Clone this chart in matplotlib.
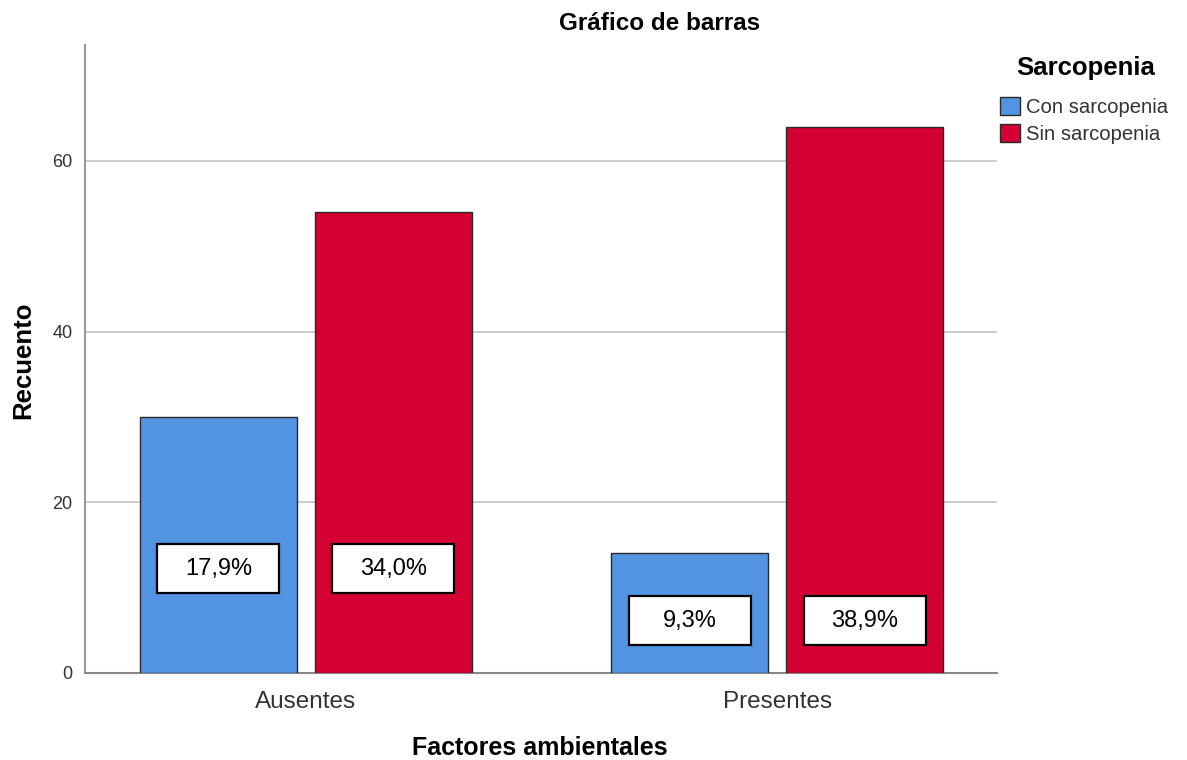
import numpy as np
import matplotlib as mpl
import matplotlib.pyplot as plt
from matplotlib.patches import Rectangle

mpl.rcParams['font.family'] = ['Liberation Sans', 'DejaVu Sans']

categories = ['Ausentes', 'Presentes']
series_names = ['Con sarcopenia', 'Sin sarcopenia']
con_counts = [30, 14]
sin_counts = [54, 64]
con_pct = ['17,9%', '9,3%']
sin_pct = ['34,0%', '38,9%']
label_y = [12.2, 6.1]  # where SPSS put the percentage boxes

colors = ['#5294e2', '#d50032']

fig = plt.figure(figsize=(11.87, 7.6), dpi=100)
ax = fig.add_axes([0.0716, 0.1145, 0.7684, 0.8265])

x = np.arange(len(categories))
w = 0.333
off = 0.1858
box_w, box_h = 0.259, 5.74

for vals, pcts, dx, c, name in [(con_counts, con_pct, -off, colors[0], series_names[0]),
                                (sin_counts, sin_pct, off, colors[1], series_names[1])]:
    ax.bar(x + dx, vals, width=w, color=c, edgecolor='#2a2a2a', linewidth=1.0,
           label=name, zorder=3)
    for xi, p, ly in zip(x, pcts, label_y):
        ax.add_patch(Rectangle((xi + dx - box_w / 2, ly - box_h / 2), box_w, box_h,
                               fc='white', ec='black', lw=1.6, zorder=4))
        ax.text(xi + dx, ly, p, ha='center', va='center', fontsize=17, zorder=5)

ax.set_xlim(-0.469, 1.467)
ax.set_ylim(0, 73.6)
ax.set_yticks([0, 20, 40, 60])
ax.set_xticks(x, categories)
ax.grid(axis='y', color='#c4c4c4', linewidth=1.2, zorder=0)
for s in ['top', 'right']:
    ax.spines[s].set_visible(False)
ax.spines['left'].set_color('#999999')
ax.spines['bottom'].set_color('#888888')
ax.spines['left'].set_linewidth(1.5)
ax.spines['bottom'].set_linewidth(1.5)
ax.tick_params(axis='y', length=0, labelsize=13, colors='#333333', pad=9)
ax.tick_params(axis='x', length=0, labelsize=17.5, colors='#333333', pad=13)

fig.text(23 / 1187, 1 - 360 / 760, 'Recuento', rotation=90, ha='center', va='center',
         fontsize=18.5, fontweight='bold')
fig.text(540 / 1187, 1 - 748 / 760, 'Factores ambientales', ha='center', va='center',
         fontsize=18, fontweight='bold')
fig.text(660 / 1187, 1 - 24 / 760, 'Gráfico de barras', ha='center', va='center',
         fontsize=17.5, fontweight='bold')

fig.text(1086 / 1187, 1 - 68 / 760, 'Sarcopenia', ha='center', va='center',
         fontsize=18.5, fontweight='bold')
leg = ax.legend(loc='upper left', bbox_to_anchor=(1000 / 1187, 1 - 97 / 760),
                bbox_transform=fig.transFigure, frameon=False, borderpad=0,
                borderaxespad=0, fontsize=14.6, handlelength=1.0, handleheight=1.0,
                handletextpad=0.3, labelspacing=0.33)
for t in leg.get_texts():
    t.set_color('#333333')

plt.savefig('out.png', dpi=100)
